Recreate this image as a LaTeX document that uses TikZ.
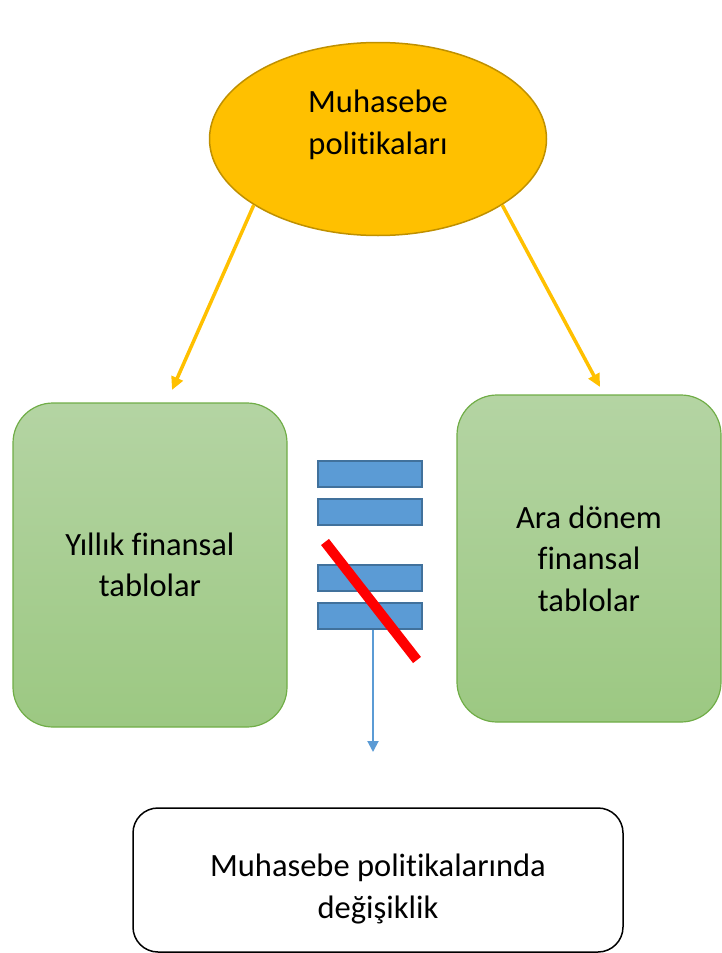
\documentclass[tikz,border=0pt]{standalone}
\usepackage{fontspec}
\setmainfont[Ligatures={NoCommon},RawFeature=-liga]{Carlito}
\usetikzlibrary{shapes.geometric,arrows.meta}
\definecolor{gold}{HTML}{FFC000}
\definecolor{golddark}{HTML}{BF9000}
\definecolor{greentop}{HTML}{B4D4A3}
\definecolor{greenbot}{HTML}{9CC882}
\definecolor{greenline}{HTML}{70AD47}
\definecolor{barblue}{HTML}{5B9BD5}
\definecolor{barline}{HTML}{41719C}
\tikzset{
  txt/.style={font=\fontsize{32.5}{41.5}\selectfont, align=center, text=black},
  greenbox/.style={txt, rounded corners=40pt, draw=greenline, line width=1.2pt,
    top color=greentop, bottom color=greenbot, inner sep=0pt},
  bar/.style={draw=barline, fill=barblue, line width=2pt, minimum width=104pt, minimum height=26pt, inner sep=0pt},
  goldarrow/.style={draw=gold, line width=3.5pt, -{Triangle[length=13pt,width=12pt]}},
}
\begin{document}
\begin{tikzpicture}[x=1pt,y=-1pt]
\useasboundingbox (0,0) rectangle (722,953);
% top ellipse
\node[ellipse, draw=golddark, line width=1.5pt, fill=gold, minimum width=337pt, minimum height=193pt, inner sep=0pt] (ell) at (378,139) {};
\node[txt] (elltxt) at (378,125) {Muhasebe\\politikaları};
% green boxes
\node[greenbox, minimum width=274pt, minimum height=324pt] (yil) at (150,565) {Yıllık finansal\\tablolar};
\node[greenbox, minimum width=264pt, minimum height=327pt] (ara) at (589,558.5) {Ara dönem\\finansal\\tablolar};
% yellow arrows
\coordinate (lend) at (172,390);
\coordinate (rend) at (600,387);
\draw[goldarrow] (ell.208) -- (lend);
\draw[goldarrow] (ell.332) -- (rend);
% blue bars
\node[bar] (b1) at (369.5,473.5) {};
\node[bar] (b2) at (369.5,511.5) {};
\node[bar] (b3) at (369.5,577.5) {};
\node[bar] (b4) at (369.5,616) {};
% blue arrow
\coordinate (bend) at (373,752);
\draw[barblue, line width=2pt, -{Triangle[length=11pt,width=11pt]}] (b4.south -| bend) -- (bend);
% red slash
\coordinate (r1) at (325,542);
\coordinate (r2) at (417,660);
\draw[red, line width=10pt] (r1) -- (r2);
% bottom box
\node[draw=black, line width=1.5pt, fill=white, rounded corners=25pt, minimum width=490pt, minimum height=144pt, inner sep=0pt] (deg) at (378,880) {};
\node[txt] (degtxt) at (378,889) {Muhasebe politikalarında\\değişiklik};
\end{tikzpicture}
\end{document}
